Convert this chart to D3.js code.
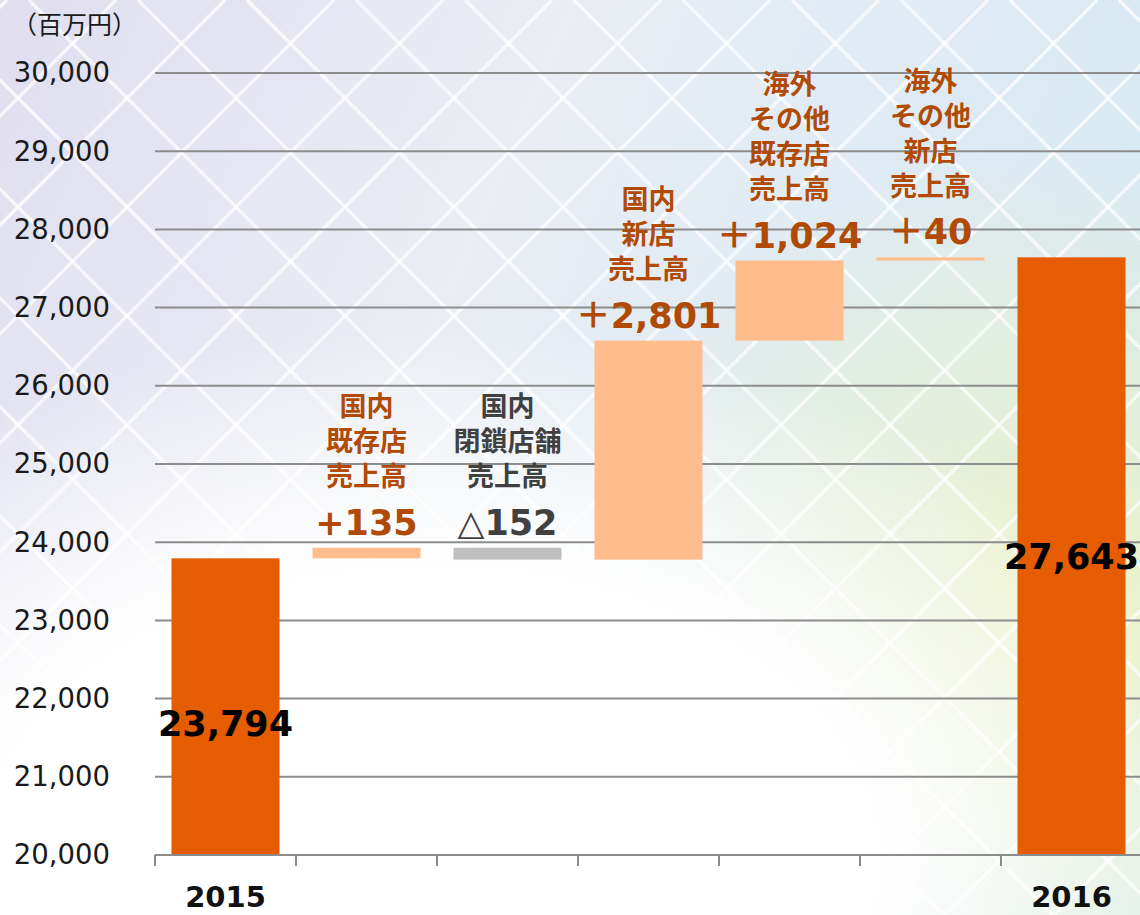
<!DOCTYPE html>
<html lang="ja">
<head>
<meta charset="utf-8">
<title>売上高 増減</title>
<script src="https://d3js.org/d3.v7.min.js"></script>
<style>
  html, body { margin: 0; padding: 0; background: #fff; }
  svg { display: block; }
</style>
</head>
<body>
<div id="chart"></div>
<script>
// data
const categories = ["2015", "国内既存店", "国内閉鎖店舗", "国内新店", "海外その他既存店", "海外その他新店", "2016"];
const values = [23794, 135, -152, 2801, 1024, 40, 27643];
const isTotal = [true, false, false, false, false, false, true];
const tickLabels = ["2015", "", "", "", "", "", "2016"];
const noteLines = [
  [],
  ["国内", "既存店", "売上高"],
  ["国内", "閉鎖店舗", "売上高"],
  ["国内", "新店", "売上高"],
  ["海外", "その他", "既存店", "売上高"],
  ["海外", "その他", "新店", "売上高"],
  []
];
const valueLabels = ["23,794", "+135", "△152", "＋2,801", "＋1,024", "＋40", "27,643"];
const yTicks = [20000, 21000, 22000, 23000, 24000, 25000, 26000, 27000, 28000, 29000, 30000];
const unitLabel = "（百万円）";

const width = 1140, height = 915;
const margin = {top: 73, right: 0, bottom: 60, left: 155};

// waterfall spans
let run = 0;
const bars = categories.map((c, i) => {
  let start, end;
  if (isTotal[i]) { start = 0; end = values[i]; run = values[i]; }
  else { start = run; end = run + values[i]; run = end; }
  return {cat: c, i, start, end, lo: Math.min(start, end), hi: Math.max(start, end)};
});

const svg = d3.select("#chart").append("svg")
  .attr("width", width).attr("height", height)
  .attr("viewBox", [0, 0, width, height]);

// background
const defs = svg.append("defs");
const bg = defs.append("linearGradient").attr("id", "bg")
  .attr("x1", 0).attr("y1", 0).attr("x2", 1).attr("y2", 0.35);
bg.append("stop").attr("offset", "0%").attr("stop-color", "#e0def0");
bg.append("stop").attr("offset", "45%").attr("stop-color", "#eaedf3");
bg.append("stop").attr("offset", "100%").attr("stop-color", "#d5e9f4");

const yel = defs.append("radialGradient").attr("id", "yel")
  .attr("gradientUnits", "userSpaceOnUse").attr("cx", 1060).attr("cy", 620).attr("r", 480);
yel.append("stop").attr("offset", "0%").attr("stop-color", "#eef3c6").attr("stop-opacity", 1);
yel.append("stop").attr("offset", "100%").attr("stop-color", "#eef3c6").attr("stop-opacity", 0);

const wht = defs.append("radialGradient").attr("id", "wht")
  .attr("gradientUnits", "userSpaceOnUse").attr("cx", 430).attr("cy", 860)
  .attr("r", 560).attr("gradientTransform", "translate(430,860) scale(1.45,0.95) translate(-430,-860)");
wht.append("stop").attr("offset", "0%").attr("stop-color", "#fff").attr("stop-opacity", 1);
wht.append("stop").attr("offset", "55%").attr("stop-color", "#fff").attr("stop-opacity", 1);
wht.append("stop").attr("offset", "100%").attr("stop-color", "#fff").attr("stop-opacity", 0);

svg.append("rect").attr("width", width).attr("height", height).attr("fill", "url(#bg)");
svg.append("rect").attr("width", width).attr("height", height).attr("fill", "url(#yel)");

// diamond lattice
const lattice = svg.append("g").attr("stroke", "#fff").attr("stroke-width", 3.5).attr("stroke-opacity", 0.7);
const period = 109;
for (let c = 7 - period * 2; c < width + height + period; c += period) {
  lattice.append("line").attr("x1", c).attr("y1", 0).attr("x2", c - height).attr("y2", height);
}
for (let c = 29 - period * 10; c < width + period; c += period) {
  lattice.append("line").attr("x1", c).attr("y1", 0).attr("x2", c + height).attr("y2", height);
}
svg.append("rect").attr("width", width).attr("height", height).attr("fill", "url(#wht)");

// scales
const x = d3.scaleBand()
  .domain(categories)
  .range([margin.left, margin.left + 141 * categories.length])
  .paddingInner(0.234)
  .paddingOuter(0.117);

const y = d3.scaleLinear()
  .domain([20000, 30000])
  .range([height - margin.bottom, margin.top]);

const yMin = y.domain()[0];
const y0 = y(yMin);

// gridlines
svg.append("g")
  .selectAll("line")
  .data(yTicks.filter(d => d > yMin))
  .join("line")
  .attr("x1", margin.left).attr("x2", width)
  .attr("y1", d => y(d)).attr("y2", d => y(d))
  .attr("stroke", "#8c8c8c").attr("stroke-width", 2);

// y axis labels
svg.append("g")
  .attr("transform", `translate(${margin.left},0)`)
  .call(d3.axisLeft(y).tickValues(yTicks).tickFormat(d3.format(",")).tickSize(0).tickPadding(45))
  .call(g => g.select(".domain").remove())
  .call(g => g.selectAll("text")
    .attr("font-family", "'DejaVu Sans', sans-serif")
    .attr("font-size", 27.5)
    .attr("fill", "#1a1a1a"));

svg.append("text")
  .attr("x", 12).attr("y", 34)
  .attr("font-family", "'Noto Sans CJK JP', sans-serif")
  .attr("font-size", 25)
  .attr("fill", "#1a1a1a")
  .text(unitLabel);

// bars (clipped at axis minimum)
const fillOf = b => isTotal[b.i] ? "#e65c00" : (values[b.i] < 0 ? "#bfbfbf" : "#ffbc8c");
const loY = b => y(Math.max(b.lo, yMin));
svg.append("g")
  .selectAll("rect")
  .data(bars)
  .join("rect")
  .attr("x", b => x(b.cat))
  .attr("width", x.bandwidth())
  .attr("y", b => y(b.hi))
  .attr("height", b => loY(b) - y(b.hi))
  .attr("fill", fillOf);

// bottom axis
const axisG = svg.append("g").attr("stroke", "#8c8c8c").attr("stroke-width", 2);
axisG.append("line").attr("x1", margin.left).attr("x2", width).attr("y1", y0).attr("y2", y0);
const pad = (x.step() - x.bandwidth()) / 2;
axisG.selectAll("line.tick")
  .data(categories)
  .join("line")
  .attr("class", "tick")
  .attr("x1", d => x(d) - pad).attr("x2", d => x(d) - pad)
  .attr("y1", y0).attr("y2", y0 + 11);

svg.append("g")
  .selectAll("text")
  .data(categories)
  .join("text")
  .attr("x", d => x(d) + x.bandwidth() / 2)
  .attr("y", y0 + 52)
  .attr("text-anchor", "middle")
  .attr("font-family", "'DejaVu Sans', sans-serif")
  .attr("font-weight", "bold")
  .attr("font-size", 29)
  .attr("fill", "#111")
  .text((d, i) => tickLabels[i]);

// value labels
const numFont = "'DejaVu Sans', 'Noto Sans CJK JP', sans-serif";
const labelColor = b => values[b.i] < 0 ? "#404040" : "#b04a05";

bars.forEach(b => {
  const cx = x(b.cat) + x.bandwidth() / 2;
  if (isTotal[b.i]) {
    svg.append("text")
      .attr("x", cx).attr("y", (y(b.hi) + loY(b)) / 2 + (b.i === 0 ? 17 : 0))
      .attr("dy", "0.36em")
      .attr("text-anchor", "middle")
      .attr("font-family", numFont).attr("font-weight", "bold").attr("font-size", 35)
      .attr("fill", "#000")
      .text(valueLabels[b.i]);
    return;
  }
  const base = y(b.hi) - 13;
  svg.append("text")
    .attr("x", cx).attr("y", base)
    .attr("text-anchor", "middle")
    .attr("font-family", numFont).attr("font-weight", "bold").attr("font-size", 35)
    .attr("fill", labelColor(b))
    .text(valueLabels[b.i]);
  // multi-line note as one text block
  const lines = noteLines[b.i];
  const lastCenter = base - 12 - 46;
  const note = svg.append("text")
    .attr("text-anchor", "middle")
    .attr("font-family", "'Noto Sans CJK JP', sans-serif")
    .attr("font-weight", "bold").attr("font-size", 27)
    .attr("fill", labelColor(b));
  lines.forEach((ln, k) => {
    note.append("tspan")
      .attr("x", cx)
      .attr("y", lastCenter - (lines.length - 1 - k) * 35 + 27 * 0.36)
      .text(ln);
  });
});
</script>
</body>
</html>
